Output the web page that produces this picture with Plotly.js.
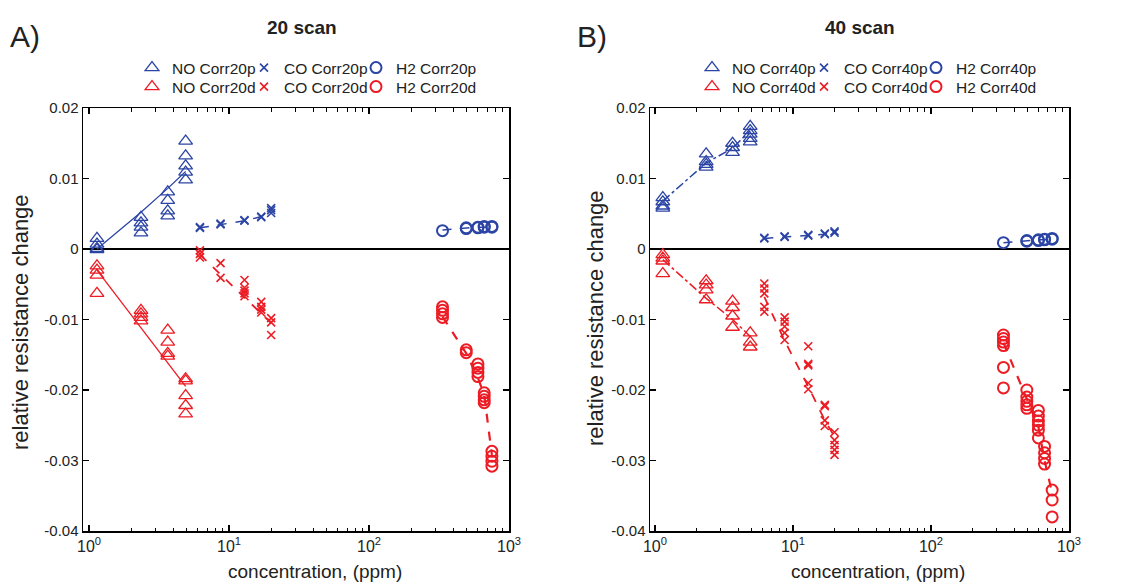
<!DOCTYPE html>
<html><head><meta charset="utf-8">
<script src="https://cdn.plot.ly/plotly-3.0.1.min.js"></script>
<style>html,body{margin:0;padding:0;background:#fff}#chart{width:1128px;height:584px}</style>
</head><body><div id="chart"></div>
<script>
// ---------- categories / concentrations (ppm) ----------
const noConc = [1.14, 2.35, 3.65, 4.9];
const coConc = [6.2, 8.7, 12.9, 17, 20];
const h2Conc = [335, 495, 600, 665, 755];

// ---------- tick labels ----------
const xTickVals = [1, 10, 100, 1000];
const xTickText = ['10<sup>0</sup>', '10<sup>1</sup>', '10<sup>2</sup>', '10<sup>3</sup>'];
const xMinorVals = [2,3,4,5,6,7,8,9,20,30,40,50,60,70,80,90,200,300,400,500,600,700,800,900];
const yTickVals = [-0.04, -0.03, -0.02, -0.01, 0, 0.01, 0.02];
const yTickText = ['-0.04', '-0.03', '-0.02', '-0.01', '0', '0.01', '0.02'];

// ---------- panel A: 20 scan (values per concentration group) ----------
const no20p = [[0.0015, 0.0007, 0.0001, -0.0001], [0.0045, 0.0037, 0.0031, 0.0023], [0.0081, 0.0069, 0.0054, 0.0047], [0.0153, 0.0132, 0.0118, 0.0109, 0.0098]];
const no20d = [[-0.0024, -0.003, -0.0037, -0.0063], [-0.0087, -0.0092, -0.0097, -0.0102], [-0.0115, -0.0132, -0.0148, -0.0152], [-0.0184, -0.0187, -0.0208, -0.0222, -0.0234]];
const co20p = [[0.003, 0.0031], [0.0035, 0.0036], [0.004, 0.0041], [0.0045, 0.0046], [0.0051, 0.0055, 0.0058]];
const co20d = [[-0.0002, -0.0007, -0.0012], [-0.002, -0.0041], [-0.0044, -0.0055, -0.0059, -0.0063, -0.0067], [-0.0075, -0.0082, -0.0086, -0.009], [-0.0098, -0.0104, -0.0122]];
const h220p = [[0.0026], [0.0029, 0.003], [0.003, 0.0031], [0.0031, 0.0032], [0.0031, 0.0032]];
const h220d = [[-0.0082, -0.0087, -0.0092, -0.0097], [-0.0143, -0.0147], [-0.0163, -0.0169, -0.0175, -0.0181], [-0.0204, -0.0209, -0.0214, -0.0218], [-0.0287, -0.0294, -0.0301, -0.0308]];
// fitted lines (value at each concentration group)
const fitNo20p = [0.0, 0.0052, 0.0086, 0.011];
const fitNo20d = [-0.003, -0.0112, -0.0162, -0.0195];
const fitCo20p = [0.003, 0.0035, 0.004, 0.0046, 0.0052];
const fitCo20d = [-0.0008, -0.0036, -0.0069, -0.0091, -0.0105];
const fitH220p = [0.0027, 0.003, 0.0031, 0.0031, 0.0032];
const fitH220d = [-0.0096, -0.0148, -0.0183, -0.0207, -0.0292];

// ---------- panel B: 40 scan ----------
const no40p = [[0.0073, 0.0067, 0.0061, 0.0058], [0.0135, 0.0124, 0.012, 0.0116], [0.015, 0.0144, 0.0137], [0.0174, 0.0168, 0.0163, 0.0157, 0.0152]];
const no40d = [[-0.0008, -0.0013, -0.0017, -0.0035], [-0.0045, -0.0051, -0.0058, -0.0072], [-0.0074, -0.0083, -0.0095, -0.0111], [-0.0119, -0.0132, -0.0139]];
const co40p = [[0.0015, 0.0016], [0.0017, 0.0018], [0.0019, 0.002], [0.0021, 0.0022], [0.0023, 0.0025]];
const co40d = [[-0.0049, -0.0056, -0.0063, -0.0082, -0.0089], [-0.0097, -0.0103, -0.011, -0.0119, -0.0129], [-0.0138, -0.0163, -0.0165, -0.019, -0.0199], [-0.0221, -0.0223, -0.0243, -0.0251], [-0.026, -0.0271, -0.0278, -0.0285, -0.0292]];
const h240p = [[0.0009], [0.0011, 0.0012], [0.0012, 0.0013], [0.0013, 0.0014], [0.0014, 0.0015]];
const h240d = [[-0.0122, -0.0127, -0.0132, -0.0137, -0.0168, -0.0197], [-0.02, -0.021, -0.0216, -0.0221, -0.0226], [-0.0229, -0.0237, -0.0244, -0.025, -0.0257, -0.0268], [-0.028, -0.0289, -0.0297, -0.0305], [-0.0342, -0.0356, -0.038]];
const fitNo40p = [0.0068, 0.0122, 0.0143, 0.0168];
const fitNo40d = [-0.0015, -0.007, -0.01, -0.0124];
const fitCo40p = [0.0015, 0.0017, 0.0019, 0.0021, 0.0024];
const fitCo40d = [-0.0068, -0.013, -0.0195, -0.0243, -0.0266];
const fitH240p = [0.0009, 0.0012, 0.0013, 0.0013, 0.0014];
const fitH240d = [-0.0133, -0.0214, -0.0252, -0.03, -0.0346];

// ---------- styles ----------
const BLUE = '#2c45a5', RED = '#ec1c24';
const FONT = 'Liberation Sans, Arial, Helvetica, sans-serif';
const TXT = '#222';

function expand(conc, groups) {
  const x = [], y = [];
  groups.forEach((g, i) => g.forEach(v => { x.push(conc[i]); y.push(v); }));
  return {x, y};
}

const traces = [];
function addSeries(name, conc, groups, fit, color, symbol, dash, lw, xa, ya, legend) {
  traces.push({
    type: 'scatter', mode: 'lines', x: conc, y: fit, xaxis: xa, yaxis: ya,
    line: {color: color, width: lw, dash: dash}, showlegend: false, hoverinfo: 'skip'
  });
  const p = expand(conc, groups);
  let mk;
  if (symbol === 'triangle') mk = {symbol: 'triangle-up-open', size: 12, color: color, line: {color: color, width: 1.3}};
  else if (symbol === 'x') mk = {symbol: 'x-thin-open', size: 8, color: color, line: {color: color, width: 1.6}};
  else mk = {symbol: 'circle-open', size: 11, color: color, line: {color: color, width: 2}};
  traces.push({
    type: 'scatter', mode: 'markers', name: name, x: p.x, y: p.y, xaxis: xa, yaxis: ya,
    marker: mk, legend: legend, legendwidth: symbol === 'circle' ? 100 : 67
  });
}

addSeries('NO Corr20p', noConc, no20p, fitNo20p, BLUE, 'triangle', 'solid', 1.3, 'x', 'y', 'legend');
addSeries('CO Corr20p', coConc, co20p, fitCo20p, BLUE, 'x', 'dash', 1.5, 'x', 'y', 'legend');
addSeries('H2 Corr20p', h2Conc, h220p, fitH220p, BLUE, 'circle', 'dash', 1.5, 'x', 'y', 'legend');
addSeries('NO Corr20d', noConc, no20d, fitNo20d, RED, 'triangle', 'solid', 1.3, 'x', 'y', 'legend2');
addSeries('CO Corr20d', coConc, co20d, fitCo20d, RED, 'x', 'dash', 1.8, 'x', 'y', 'legend2');
addSeries('H2 Corr20d', h2Conc, h220d, fitH220d, RED, 'circle', 'dash', 2.2, 'x', 'y', 'legend2');

addSeries('NO Corr40p', noConc, no40p, fitNo40p, BLUE, 'triangle', 'dashdot', 1.5, 'x2', 'y2', 'legend3');
addSeries('CO Corr40p', coConc, co40p, fitCo40p, BLUE, 'x', 'dash', 1.5, 'x2', 'y2', 'legend3');
addSeries('H2 Corr40p', h2Conc, h240p, fitH240p, BLUE, 'circle', 'dash', 1.5, 'x2', 'y2', 'legend3');
addSeries('NO Corr40d', noConc, no40d, fitNo40d, RED, 'triangle', 'dashdot', 1.5, 'x2', 'y2', 'legend4');
addSeries('CO Corr40d', coConc, co40d, fitCo40d, RED, 'x', 'dash', 1.8, 'x2', 'y2', 'legend4');
addSeries('H2 Corr40d', h2Conc, h240d, fitH240d, RED, 'circle', 'dash', 2.2, 'x2', 'y2', 'legend4');

const W = 1128, H = 584;
function xAxis(domain, range, anchor) {
  return {
    type: 'log', domain: domain, range: range, anchor: anchor,
    tickmode: 'array', tickvals: xTickVals, ticktext: xTickText,
    ticks: 'inside', ticklen: 6, tickwidth: 1.2, tickcolor: '#000',
    minor: {tickmode: 'array', tickvals: xMinorVals, ticks: 'inside', ticklen: 3.5, tickwidth: 1, tickcolor: '#000', showgrid: false},
    showline: true, linecolor: '#000', linewidth: 1.5, mirror: 'ticks',
    showgrid: false, zeroline: false,
    tickfont: {family: FONT, size: 16, color: TXT}, fixedrange: true
  };
}
function yAxis(anchor) {
  return {
    domain: [53 / H, 476 / H], range: [-0.04, 0.02], anchor: anchor,
    tickmode: 'array', tickvals: yTickVals, ticktext: yTickText,
    ticks: 'inside', ticklen: 6, tickwidth: 1.2, tickcolor: '#000',
    showline: true, linecolor: '#000', linewidth: 1.5, mirror: 'ticks',
    showgrid: false, zeroline: true, zerolinecolor: '#000', zerolinewidth: 2,
    tickfont: {family: FONT, size: 15, color: TXT}, fixedrange: true
  };
}
function leg(xpx, ypx) {
  return {
    x: xpx / W, xanchor: 'left', y: 1 - ypx / H, yanchor: 'middle',
    orientation: 'h', bgcolor: 'rgba(0,0,0,0)', borderwidth: 0,
    font: {family: FONT, size: 15.5, color: TXT}, traceorder: 'normal', itemclick: false
  };
}
function ann(text, xpx, ypx, size, opts) {
  return Object.assign({
    text: text, xref: 'paper', yref: 'paper', x: xpx / W, y: 1 - ypx / H,
    xanchor: 'center', yanchor: 'middle', showarrow: false,
    font: {family: FONT, size: size, color: TXT}
  }, opts || {});
}

const layout = {
  width: W, height: H, margin: {l: 0, r: 0, t: 0, b: 0},
  paper_bgcolor: '#fff', plot_bgcolor: '#fff',
  xaxis: xAxis([83 / W, 509 / W], [-0.043, 3], 'y'),
  yaxis: yAxis('x'),
  xaxis2: xAxis([650 / W, 1069 / W], [-0.036, 3], 'y2'),
  yaxis2: yAxis('x2'),
  legend: leg(132, 68),
  legend2: leg(132, 87),
  legend3: leg(692, 68),
  legend4: leg(692, 87),
  annotations: [
    ann('A)', 25, 36, 30),
    ann('B)', 592, 36, 30),
    ann('<b>20 scan</b>', 302, 28, 19),
    ann('<b>40 scan</b>', 860, 28, 19),
    ann('concentration, (ppm)', 315, 571, 19),
    ann('concentration, (ppm)', 878, 571, 19),
    ann('relative resistance change', 20, 322, 22, {textangle: -90}),
    ann('relative resistance change', 595, 318, 22, {textangle: -90})
  ]
};

Plotly.newPlot('chart', traces, layout, {displayModeBar: false, staticPlot: true});
</script>
</body></html>
